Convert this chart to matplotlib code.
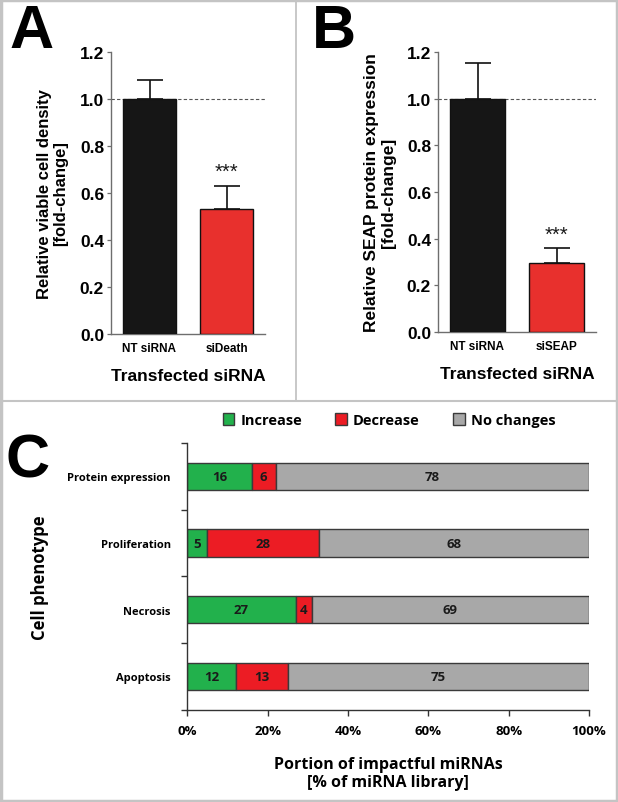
import matplotlib
matplotlib.use("Agg")
import matplotlib.pyplot as plt
from matplotlib.lines import Line2D
from matplotlib.patches import Patch
import numpy as np

# ---------------- data ----------------
a_categories = ["NT siRNA", "siDeath"]
a_values = [1.00, 0.53]
a_errors = [0.08, 0.10]

b_categories = ["NT siRNA", "siSEAP"]
b_values = [1.00, 0.295]
b_errors = [0.155, 0.065]

y_ticks_ab = [0.0, 0.2, 0.4, 0.6, 0.8, 1.0, 1.2]

c_categories = ["Protein expression", "Proliferation", "Necrosis", "Apoptosis"]
c_increase = [16, 5, 27, 12]
c_decrease = [6, 28, 4, 13]
c_nochange = [78, 68, 69, 75]
c_series = ["Increase", "Decrease", "No changes"]
c_xticks = [0, 20, 40, 60, 80, 100]

# ---------------- style ----------------
W, H = 618, 803
fig = plt.figure(figsize=(W / 100, H / 100), dpi=100)
ARIAL = ["Liberation Sans", "DejaVu Sans"]
CALIBRI = ["Open Sans", "DejaVu Sans"]
BLACK_BAR = "#161616"
RED_BAR = "#e8302d"
GREEN = "#22b14c"
RED = "#ec1c24"
GRAY = "#a8a8a8"
SPINE_AB = "#6e6e6e"


def fx(px):
    return px / W


def fy(py):
    return 1 - py / H


def bar_panel(rect, cats, vals, errs, ylabel, ysize):
    ax = fig.add_axes(rect)
    x = np.arange(len(cats))
    ax.bar(x, vals, width=0.69, color=[BLACK_BAR, RED_BAR],
           edgecolor="#111111", linewidth=1.0, zorder=3)
    ax.errorbar(x, vals, yerr=[np.zeros(len(errs)), errs], fmt="none",
                ecolor="#111111", elinewidth=1.2, capsize=9.4, capthick=1.2,
                zorder=2)
    ax.axhline(1.0, color="#555555", linestyle=(0, (3, 2)), linewidth=0.8,
               zorder=1)
    # significance stars above the second bar
    ax.text(x[1], vals[1] + errs[1] + 0.02, "***", ha="center", va="bottom",
            fontsize=14.5, family=ARIAL, color="#1a1a1a")
    ax.set_xlim(-0.5, 1.5)
    ax.set_ylim(0, 1.2)
    ax.set_yticks(y_ticks_ab)
    ax.set_yticklabels([f"{v:.1f}" for v in y_ticks_ab], family=ARIAL,
                       fontweight="bold", fontsize=12.5)
    ax.set_xticks(x)
    ax.set_xticklabels(cats, family=ARIAL, fontweight="bold", fontsize=8.5)
    ax.tick_params(axis="x", length=0, pad=6)
    ax.tick_params(axis="y", length=3, width=0.9, color=SPINE_AB, pad=2)
    for s in ["top", "right"]:
        ax.spines[s].set_visible(False)
    for s in ["left", "bottom"]:
        ax.spines[s].set_color(SPINE_AB)
        ax.spines[s].set_linewidth(1.0)
    ax.set_xlabel("Transfected siRNA", family=ARIAL, fontweight="bold",
                  fontsize=12.5, labelpad=10)
    ax.set_ylabel(ylabel, family=ARIAL, fontweight="bold", fontsize=ysize,
                  labelpad=8, linespacing=1.1)
    return ax


# Panel A
bar_panel([fx(111), fy(335), fx(265) - fx(111), fy(53) - fy(335)],
          a_categories, a_values, a_errors,
          "Relative viable cell density\n[fold-change]", 12)
# Panel B
bar_panel([fx(438), fy(333), fx(596) - fx(438), fy(53) - fy(333)],
          b_categories, b_values, b_errors,
          "Relative SEAP protein expression\n[fold-change]", 12.5)

# Panel C
axc = fig.add_axes([fx(187.3), fy(710.7), fx(589) - fx(187.3),
                    fy(444) - fy(710.7)])
n = len(c_categories)
ypos = np.arange(n)[::-1] + 0.5
inc = np.array(c_increase)
dec = np.array(c_decrease)
noc = np.array(c_nochange)
tot = inc + dec + noc
inc_p = inc / tot * 100
dec_p = dec / tot * 100
noc_p = noc / tot * 100
h = 0.41
edge = "#3a3a3a"
axc.barh(ypos, inc_p, height=h, color=GREEN, edgecolor=edge, linewidth=1.0)
axc.barh(ypos, dec_p, left=inc_p, height=h, color=RED, edgecolor=edge,
         linewidth=1.0)
axc.barh(ypos, noc_p, left=inc_p + dec_p, height=h, color=GRAY,
         edgecolor=edge, linewidth=1.0)
for vals, lefts, widths in [(inc, np.zeros(n), inc_p),
                            (dec, inc_p, dec_p),
                            (noc, inc_p + dec_p, noc_p)]:
    for yy, v, l, w in zip(ypos, vals, lefts, widths):
        axc.text(l + w / 2, yy, str(v), ha="center", va="center",
                 fontsize=9.5, fontweight="bold", family=CALIBRI,
                 color="#1a1a1a")
axc.set_xlim(0, 100)
axc.set_ylim(0, n)
axc.set_xticks(c_xticks)
axc.set_xticklabels([f"{v}%" for v in c_xticks], family=CALIBRI,
                    fontweight="bold", fontsize=9.5)
axc.set_yticks(np.arange(n + 1))
axc.set_yticklabels([])
axc.set_yticks(ypos, minor=True)
axc.set_yticklabels(c_categories, minor=True, family=CALIBRI,
                    fontweight="bold", fontsize=8)
axc.tick_params(axis="y", which="major", length=4, width=1.0, color="#333333")
axc.tick_params(axis="y", which="minor", length=0, pad=12)
axc.tick_params(axis="x", length=4, width=1.0, color="#333333", pad=6)
for s in ["top", "right"]:
    axc.spines[s].set_visible(False)
for s in ["left", "bottom"]:
    axc.spines[s].set_color("#333333")
    axc.spines[s].set_linewidth(1.0)
axc.set_xlabel("Portion of impactful miRNAs\n[% of miRNA library]",
               family=CALIBRI, fontweight="bold", fontsize=11.5, labelpad=14,
               linespacing=1.2)
fig.text(fx(40), fy(578), "Cell phenotype", rotation=90, ha="center",
         va="center", family=CALIBRI, fontweight="bold", fontsize=12)

handles = [Patch(facecolor=c, edgecolor=edge, linewidth=1.0)
           for c in [GREEN, RED, GRAY]]
fig.legend(handles, c_series, loc="center", bbox_to_anchor=(fx(389), fy(421)),
           ncol=3, frameon=False, prop={"family": CALIBRI, "weight": "bold",
                                        "size": 10.5},
           handlelength=0.8, handleheight=0.8, handletextpad=0.4,
           columnspacing=2.3)

# panel letters
for letter, x, y in [("A", 9, 4), ("B", 312, 4), ("C", 5, 433)]:
    fig.text(fx(x), fy(y), letter, ha="left", va="top", family=ARIAL,
             fontweight="bold", fontsize=44)

# frame lines
line_col = "#c4c4c4"
fig.add_artist(Line2D([fx(296), fx(296)], [fy(0), fy(402)], color=line_col,
                      linewidth=1.3, transform=fig.transFigure))
fig.add_artist(Line2D([0, 1], [fy(402), fy(402)], color=line_col,
                      linewidth=1.5, transform=fig.transFigure))
for xs, ys in [([0.001, 0.001], [0, 1]), ([0.999, 0.999], [0, 1]),
               ([0, 1], [0.001, 0.001]), ([0, 1], [0.999, 0.999])]:
    fig.add_artist(Line2D(xs, ys, color=line_col, linewidth=2.5,
                          transform=fig.transFigure))

fig.savefig("out.png", dpi=100)
